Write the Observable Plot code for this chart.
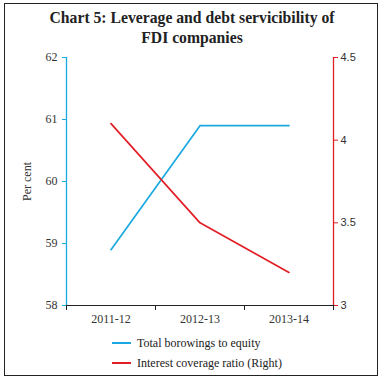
<!DOCTYPE html>
<html><head><meta charset="utf-8">
<script src="https://cdn.jsdelivr.net/npm/d3@7"></script>
<script src="https://cdn.jsdelivr.net/npm/@observablehq/plot@0.6"></script>
<style>
body{margin:0;width:384px;height:379px;position:relative;background:#fff;overflow:hidden}
#frame{position:absolute;left:4px;top:3px;width:374px;height:373px;border:1.5px solid #222;box-sizing:border-box}
#title{position:absolute;left:0;top:8px;width:384px;text-align:center;font:bold 15.7px "Liberation Serif";line-height:20px;color:#222}
#chart{position:absolute;left:0;top:50px}
#legend{position:absolute;left:112px;top:333px;font:12px "Liberation Serif";color:#222}
.row{display:flex;align-items:center;height:20px}
.sw{width:19px;height:2px;margin-right:6px}
</style></head>
<body>
<div id="frame"></div>
<div id="title">Chart 5: Leverage and debt servicibility of<br>FDI companies</div>
<div id="chart"></div>
<div id="legend"></div>
<script>
const years = ["2011-12", "2012-13", "2013-14"];
const borrowings = [58.9, 60.9, 60.9];
const coverage = [4.1, 3.5, 3.2];
const leftTicks = [58, 59, 60, 61, 62];
const rightTicks = [3, 3.5, 4, 4.5];
const seriesNames = ["Total borowings to equity", "Interest coverage ratio (Right)"];

const blue = "#1aa9e0", red = "#e21f26";
const toLeft = v => 58 + (v - 3) * 4 / 1.5;
const fromLeft = d => 3 + (d - 58) * 1.5 / 4;

const bData = years.map((y, i) => ({x: i + 0.5, v: borrowings[i]}));
const cData = years.map((y, i) => ({x: i + 0.5, v: toLeft(coverage[i])}));

const chart = Plot.plot({
  width: 384, height: 280,
  marginLeft: 66, marginRight: 51, marginTop: 7, marginBottom: 25,
  style: {fontFamily: "Liberation Serif", fontSize: "12px", color: "#333", background: "transparent"},
  x: {type: "linear", domain: [0, 3]},
  y: {domain: [58, 62]},
  marks: [
    Plot.ruleY([58], {stroke: "#222", strokeWidth: 1.2}),
    Plot.ruleX([0], {stroke: blue, strokeWidth: 1.3}),
    Plot.ruleX([3], {stroke: red, strokeWidth: 1.3}),
    Plot.axisY({ticks: leftTicks, tickFormat: d => String(d), tickSize: 4, tickPadding: 5, stroke: blue, fill: "#333",
      label: "Per cent", labelAnchor: "center", labelArrow: "none", labelOffset: 44}),
    Plot.axisY({anchor: "right", ticks: rightTicks.map(toLeft), tickFormat: d => String(Math.round(fromLeft(d) * 10) / 10),
      tickSize: 4, tickPadding: 3, stroke: red, fill: "#333", label: null,
      fontFamily: "Liberation Sans", fontSize: 11}),
    Plot.axisX({ticks: [0, 1, 2, 3], tickFormat: () => "", tickSize: 5, stroke: "#222", label: null}),
    Plot.axisX({ticks: [0.5, 1.5, 2.5], tickFormat: d => years[Math.floor(d)], tickSize: 0, tickPadding: 9, fill: "#333", label: null}),
    Plot.line(bData, {x: "x", y: "v", stroke: blue, strokeWidth: 1.7}),
    Plot.line(cData, {x: "x", y: "v", stroke: red, strokeWidth: 1.7})
  ]
});
document.getElementById("chart").appendChild(chart);

const legend = document.getElementById("legend");
[blue, red].forEach((c, i) => {
  const row = document.createElement("div");
  row.className = "row";
  row.innerHTML = `<span class="sw" style="background:${c}"></span><span>${seriesNames[i]}</span>`;
  legend.appendChild(row);
});
</script>
</body></html>
